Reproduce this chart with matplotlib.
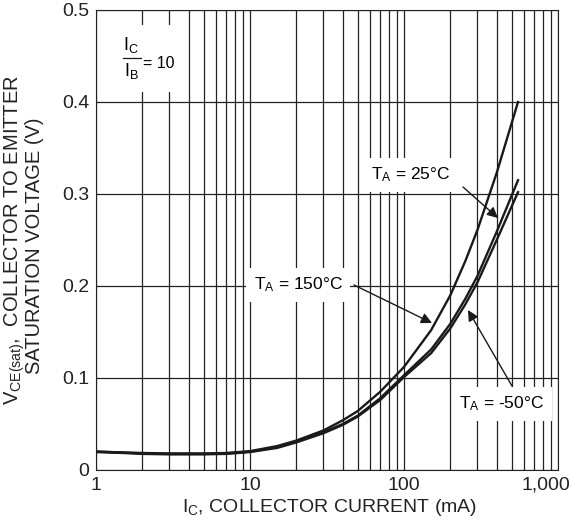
import matplotlib.pyplot as plt
import numpy as np
from matplotlib.transforms import ScaledTranslation
from matplotlib.patches import Rectangle

plt.rcParams['font.family'] = ['Liberation Sans', 'DejaVu Sans']
plt.rcParams['mathtext.fontset'] = 'custom'
plt.rcParams['mathtext.rm'] = 'Liberation Sans'
plt.rcParams['mathtext.it'] = 'Liberation Sans'
plt.rcParams['mathtext.bf'] = 'Liberation Sans'

# collector current (mA)
ic = [1, 1.5, 2, 3, 5, 7, 10, 15, 20, 30, 40, 50, 70, 100, 150, 200, 250, 300, 400, 550]
# VCE(sat) (V) per ambient temperature
v150 = [0.020, 0.019, 0.0185, 0.018, 0.018, 0.0185, 0.0205, 0.026, 0.032, 0.043, 0.054, 0.064,
        0.085, 0.112, 0.152, 0.190, 0.227, 0.261, 0.323, 0.400]
v25 = [0.020, 0.019, 0.018, 0.0175, 0.0175, 0.018, 0.020, 0.025, 0.031, 0.041, 0.050, 0.059,
       0.078, 0.103, 0.131, 0.159, 0.186, 0.211, 0.259, 0.315]
vm50 = [0.0195, 0.0185, 0.0175, 0.017, 0.017, 0.0175, 0.0195, 0.024, 0.030, 0.040, 0.049, 0.058,
        0.076, 0.101, 0.127, 0.154, 0.180, 0.204, 0.250, 0.302]

xticks = [1, 10, 100, 1000]
xlabels = ['1', '10', '100', '1,000']
yticks = [0, 0.1, 0.2, 0.3, 0.4, 0.5]
ylabels = ['0', '0.1', '0.2', '0.3', '0.4', '0.5']

W, H = 573, 524
L, R, T, B = 96, 558, 10, 470

def px(xp):
    return 10 ** ((xp - L) / ((R - L) / 3))

def py(yp):
    return (B - yp) / (B - T) * 0.5

fig = plt.figure(figsize=(W/100, H/100), dpi=100)
ax = fig.add_axes([L/W, 1-B/H, (R-L)/W, (B-T)/H])

for v in (v150, v25, vm50):
    ax.plot(ic, v, color='#1a1a1a', lw=1.7, zorder=3, solid_joinstyle='round')

ax.set_xscale('log')
ax.set_xlim(1, 1000)
ax.set_ylim(0, 0.5)
ax.set_xticks(xticks)
ax.set_xticklabels(xlabels)
ax.set_yticks(yticks)
ax.set_yticklabels(ylabels)
ax.xaxis.set_minor_locator(plt.matplotlib.ticker.LogLocator(base=10, subs=np.arange(2, 10)))
ax.xaxis.set_minor_formatter(plt.NullFormatter())
ax.tick_params(which='both', length=0, labelsize=14, pad=5, colors='#222222')
ax.grid(True, which='both', axis='x', color='#222222', lw=0.9)
ax.grid(True, which='major', axis='y', color='#222222', lw=0.9)
for s in ax.spines.values():
    s.set_color('#222222')

last = ax.get_xticklabels()[-1]
last.set_ha('right')
last.set_transform(last.get_transform() + ScaledTranslation(12/100, 0, fig.dpi_scale_trans))

fig.text(330/W, 1-508/H, r'I$_\mathregular{C}$, COLLECTOR CURRENT (mA)', ha='center', va='center',
         fontsize=14, color='#222222')
fig.text(15/W, 1-240/H, r'V$_\mathregular{CE(sat)}$,  COLLECTOR TO EMITTER',
         rotation=90, ha='center', va='center', fontsize=14.5, color='#222222')
fig.text(35/W, 1-246/H, 'SATURATION VOLTAGE (V)',
         rotation=90, ha='center', va='center', fontsize=14.5, color='#222222')

# Ic/Ib = 10 box
ax.add_patch(Rectangle((px(100), py(92)), px(186) - px(100), py(25) - py(92),
                       fc='white', ec='none', zorder=2.5))
ax.text(px(131), py(45), r'I$_\mathregular{C}$', fontsize=13, ha='center', va='center', zorder=4)
ax.text(px(131), py(71), r'I$_\mathregular{B}$', fontsize=13, ha='center', va='center', zorder=4)
ax.plot([px(123), px(141)], [py(58), py(58)], color='#1a1a1a', lw=0.9, zorder=4)
ax.text(px(143), py(63), '= 10', fontsize=11.5, ha='left', va='center', zorder=4)

box = dict(boxstyle='square,pad=0.45', fc='white', ec='none')
arrow = dict(arrowstyle='-|>', color='#1a1a1a', lw=1, mutation_scale=16, shrinkA=0, shrinkB=0)

ax.text(px(411), py(175), r'T$_\mathregular{A}$ = 25°C', fontsize=12.5, ha='center', va='center',
        bbox=box, zorder=4)
ax.annotate('', xy=(px(498), py(218)), xytext=(px(463), py(187)), arrowprops=arrow, zorder=4)

ax.text(px(298), py(285), r'T$_\mathregular{A}$ = 150°C', fontsize=12.5, ha='center', va='center',
        bbox=box, zorder=4)
ax.annotate('', xy=(px(432), py(323)), xytext=(px(354), py(285)), arrowprops=arrow, zorder=4)

ax.text(px(502), py(404), r'T$_\mathregular{A}$ = -50°C', fontsize=12.5, ha='center', va='center',
        bbox=box, zorder=4)
ax.annotate('', xy=(px(468), py(310)), xytext=(px(512), py(386)), arrowprops=arrow, zorder=4)

fig.savefig('out.png', dpi=100)
